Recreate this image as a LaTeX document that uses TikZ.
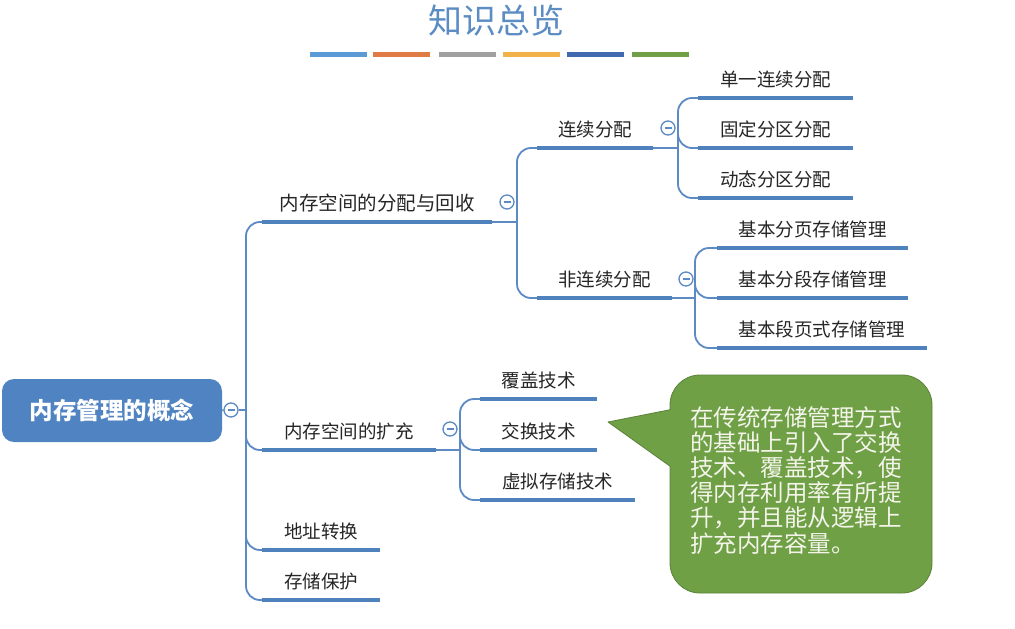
\documentclass[tikz,border=0pt]{standalone}
\usepackage{fontspec}
\setmainfont{Noto Sans CJK SC}
\usetikzlibrary{calc}
\definecolor{mmblue}{HTML}{4F81BD}
\definecolor{lnblue}{HTML}{5B8AC4}
\definecolor{rootblue}{HTML}{5083C2}
\definecolor{titleblue}{HTML}{5B8CC4}
\definecolor{notegreen}{HTML}{6FA046}
\definecolor{noteedge}{HTML}{5B8239}
\definecolor{notetext}{HTML}{F4F4EA}
\definecolor{barA}{HTML}{5B9BD5}
\definecolor{barB}{HTML}{E07B45}
\definecolor{barC}{HTML}{A0A0A0}
\definecolor{barD}{HTML}{F2B24A}
\definecolor{barE}{HTML}{4169B0}
\definecolor{barF}{HTML}{6FA048}
\tikzset{
  topic/.style={rectangle, inner sep=0pt, minimum height=36pt, anchor=south,
    font=\fontsize{18.5}{20}\selectfont, text=black!85},
  ul/.style={draw=mmblue, line width=4.5pt},
  conn/.style={draw=lnblue, line width=1.8pt, rounded corners=14pt},
  fold/.style={circle, draw=lnblue, line width=1.3pt, fill=white, minimum size=14pt, inner sep=0pt,
    path picture={\draw[lnblue, line width=1.3pt]
      ([xshift=-3.5pt]path picture bounding box.center) -- ([xshift=3.5pt]path picture bounding box.center);}},
  colorbar/.style={line width=5pt},
}
\begin{document}
\begin{tikzpicture}[x=1pt,y=-1pt]
\useasboundingbox (0,0) rectangle (1015,629);
\fill[white] (0,0) rectangle (1015,629);

% title
\node[font=\fontsize{34}{36}\selectfont, text=titleblue] (title) at (496,21) {知识总览};
\draw[colorbar, draw=barA] (310,54) -- (367,54);
\draw[colorbar, draw=barB] (373,54) -- (430,54);
\draw[colorbar, draw=barC] (439,54) -- (496,54);
\draw[colorbar, draw=barD] (503,54) -- (560,54);
\draw[colorbar, draw=barE] (567,54) -- (624,54);
\draw[colorbar, draw=barF] (632,54) -- (689,54);

% root
\node[rectangle, rounded corners=12pt, fill=rootblue, minimum width=220pt, minimum height=63pt,
  text=white, font=\fontsize{23.5}{25}\selectfont\bfseries] (root) at (112,410.5) {内存管理的概念};
\node[fold] (rc) at (231,410) {};

% level 1
\node[topic, minimum width=230pt, font=\fontsize{19.5}{21}\selectfont, minimum height=38pt] (a) at (377,222) {内存空间的分配与回收};
\node[topic, minimum width=174pt] (b) at (349,450) {内存空间的扩充};
\node[topic, minimum width=118pt] (c) at (321,550) {地址转换};
\node[topic, minimum width=118pt] (d) at (321,600) {存储保护};

% level 2
\node[topic, minimum width=116pt] (a1) at (595,148) {连续分配};
\node[topic, minimum width=135pt] (a2) at (604.5,298) {非连续分配};
\node[topic, minimum width=117pt] (b1) at (538.5,399) {覆盖技术};
\node[topic, minimum width=117pt] (b2) at (538.5,450) {交换技术};
\node[topic, minimum width=155pt] (b3) at (557.5,500) {虚拟存储技术};

% level 3
\node[topic, minimum width=155pt] (a11) at (775.5,98) {单一连续分配};
\node[topic, minimum width=155pt] (a12) at (775.5,148) {固定分区分配};
\node[topic, minimum width=155pt] (a13) at (775.5,198) {动态分区分配};
\node[topic, minimum width=191pt] (a21) at (812.5,248) {基本分页存储管理};
\node[topic, minimum width=191pt] (a22) at (812.5,298) {基本分段存储管理};
\node[topic, minimum width=210pt] (a23) at (822,348) {基本段页式存储管理};

% junctions
\coordinate (J0) at (246,410);
\coordinate (Ja) at (517,222);
\coordinate (Ja1) at (678,148);
\coordinate (Ja2) at (695,298);
\coordinate (Jb) at (460,450);

% fold markers
\node[fold] (fa) at (507,202) {};
\node[fold] (fa1) at (668,128) {};
\node[fold] (fa2) at (686,279) {};
\node[fold] (fb) at (450,429) {};

% connectors
\draw[conn] (root.east) -- (rc.west);
\draw[conn] (rc.east) -- (J0);
\foreach \n in {a,b,c,d} \draw[conn] (J0) |- (\n.south west);
\draw[conn] (a.south east) -- (Ja);
\foreach \n in {a1,a2} \draw[conn] (Ja) |- (\n.south west);
\draw[conn] (a1.south east) -- (Ja1);
\foreach \n in {a11,a12,a13} \draw[conn] (Ja1) |- (\n.south west);
\draw[conn] (a2.south east) -- (Ja2);
\foreach \n in {a21,a22,a23} \draw[conn] (Ja2) |- (\n.south west);
\draw[conn] (b.south east) -- (Jb);
\foreach \n in {b1,b2,b3} \draw[conn] (Jb) |- (\n.south west);

% underlines
\foreach \n in {a,b,c,d,a1,a2,b1,b2,b3,a11,a12,a13,a21,a22,a23}
  \draw[ul] (\n.south west) -- (\n.south east);

% callout
\node[rectangle, rounded corners=30pt, fill=notegreen, draw=noteedge, line width=0.8pt,
  minimum width=262pt, minimum height=218pt] (note) at (801,484) {};
\coordinate (tip) at (608,422);
\coordinate (nb1) at ($(note.north west)+(1,35)$);
\coordinate (nb2) at ($(note.north west)+(1,92)$);
\fill[notegreen] (nb1) -- (tip) -- (nb2) -- ($(nb2)+(6,0)$) -- ($(nb1)+(6,0)$) -- cycle;
\draw[noteedge, line width=0.8pt, line join=round] (nb1) -- (tip) -- (nb2);
\node[anchor=north west, inner sep=0pt, text width=230pt, align=left, text=notetext,
  font=\fontsize{23.5}{25.2}\selectfont] (notetxt) at (690,406)
  {在传统存储管理方式\\的基础上引入了交换\\技术、覆盖技术，使\\得内存利用率有所提\\升，并且能从逻辑上\\扩充内存容量。};
\end{tikzpicture}
\end{document}
